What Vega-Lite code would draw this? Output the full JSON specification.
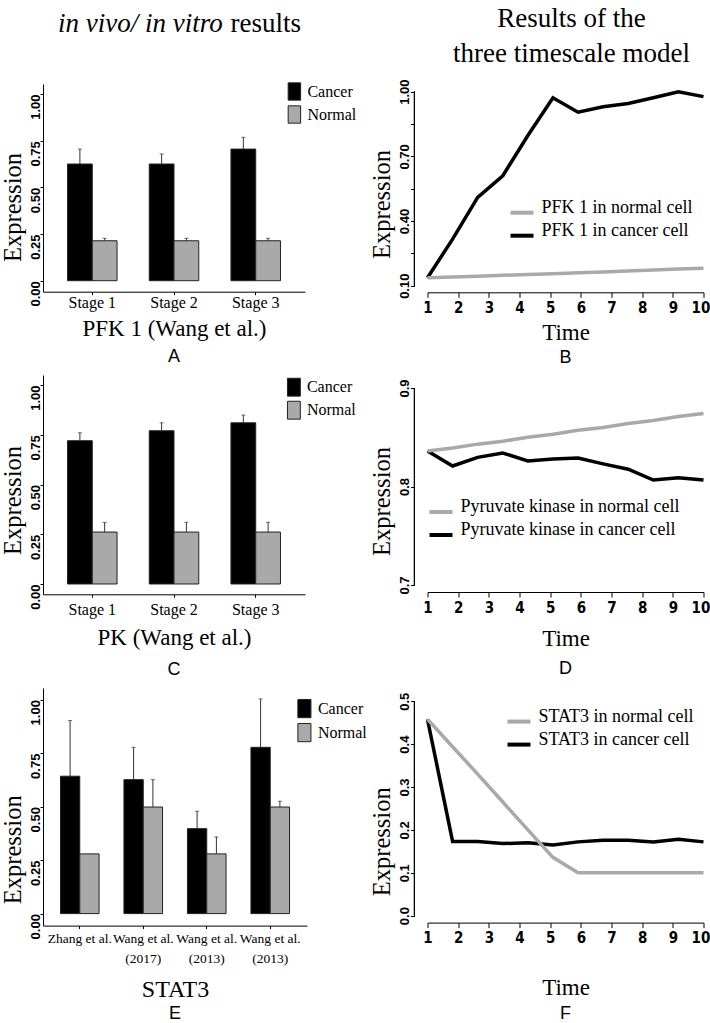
{
  "$schema": "https://vega.github.io/schema/vega-lite/v6.json",
  "background": "white",
  "padding": {"left": 0, "top": 4, "right": 0, "bottom": 0},
  "columns": 2,
  "bounds": "flush",
  "align": "each",
  "spacing": {"row": 0, "column": 120.5},
  "resolve": {"scale": {"fill": "independent", "color": "independent", "x": "independent", "y": "independent", "xOffset": "independent"}, "legend": {"fill": "independent", "color": "independent"}},
  "config": {
    "view": {"stroke": null},
    "font": "Liberation Serif",
    "axis": {"grid": false, "domainColor": "#000", "tickColor": "#000", "labelColor": "#000", "titleColor": "#000", "domainWidth": 1, "tickWidth": 1},
    "legend": {"labelColor": "#000"},
    "title": {"color": "#000"}
  },
  "concat": [
    {
      "width": 262, "height": 207.7,
      "title": {"text": "A", "orient": "bottom", "anchor": "middle", "font": "Liberation Sans", "fontSize": 18, "fontWeight": "normal", "offset": 7.5},
      "data": {"values": [
        {"g": "Stage 1", "k": "Cancer", "v": 0.625, "u": 0.705},
        {"g": "Stage 1", "k": "Normal", "v": 0.214, "u": 0.227},
        {"g": "Stage 2", "k": "Cancer", "v": 0.625, "u": 0.679},
        {"g": "Stage 2", "k": "Normal", "v": 0.214, "u": 0.227},
        {"g": "Stage 3", "k": "Cancer", "v": 0.705, "u": 0.768},
        {"g": "Stage 3", "k": "Normal", "v": 0.214, "u": 0.227}
      ]},
      "layer": [
        {
          "encoding": {
            "x": {"field": "g", "type": "nominal", "sort": null, "scale": {"paddingInner": 0.394, "paddingOuter": 0.3},
              "axis": {"orient": "bottom", "labelAngle": 0, "labelFont": "Liberation Serif", "labelFontSize": 16, "labelBaseline": "alphabetic", "labelPadding": 12.8, "tickSize": 3, "labelOverlap": false,
                "title": "PFK 1 (Wang et al.)", "titleFont": "Liberation Serif", "titleFontSize": 23, "titleFontWeight": "normal", "titleBaseline": "alphabetic", "titleY": 43.8}},
            "xOffset": {"field": "k", "type": "nominal", "sort": ["Cancer", "Normal"], "scale": {"paddingInner": 0, "paddingOuter": 0}},
            "y": {"field": "v", "type": "quantitative", "title": "Expression", "scale": {"domain": [-0.0589, 1.0536], "nice": false, "zero": false},
              "axis": {"orient": "left", "values": [0, 0.25, 0.5, 0.75, 1], "format": ".2f", "labelAngle": -90, "labelAlign": "right", "labelBaseline": "bottom", "labelFont": "Liberation Sans", "labelFontWeight": "bold", "labelFontSize": 13, "labelPadding": -2, "tickSize": 3, "labelOverlap": false, "labelFlush": false,
                "titleFont": "Liberation Serif", "titleFontSize": 24.5, "titleFontWeight": "normal", "titleAngle": -90, "titleAlign": "center", "titleBaseline": "bottom", "titleX": -18, "titleY": 123}}
          },
          "layer": [
            {"mark": {"type": "bar", "stroke": "#222", "strokeWidth": 1},
             "encoding": {"y2": {"datum": 0},
               "fill": {"field": "k", "type": "nominal", "scale": {"domain": ["Cancer", "Normal"], "range": ["#000000", "#a9a9a9"]},
                 "legend": {"title": null, "orient": "none", "legendX": 241.9, "legendY": -2, "symbolType": "M-0.72,-1H0.72V1H-0.72Z", "symbolSize": 300, "symbolStrokeColor": "#222", "symbolStrokeWidth": 1, "symbolOpacity": 1, "labelFont": "Liberation Serif", "labelFontSize": 16, "labelOffset": 3.5, "rowPadding": 0, "padding": 0}}}},
            {"transform": [{"filter": "datum.u != null"}], "mark": {"type": "rule", "color": "#333", "strokeWidth": 1}, "encoding": {"y2": {"field": "u"}}},
            {"transform": [{"filter": "datum.u != null"}], "mark": {"type": "tick", "color": "#333", "size": 4, "thickness": 1}, "encoding": {"y": {"field": "u", "type": "quantitative", "title": "Expression"}}}
          ]
        },
        {
          "mark": {"type": "point", "opacity": 0, "size": 1},
          "encoding": {
            "x": {"field": "g", "type": "nominal", "sort": null,
              "axis": {"orient": "top", "domain": false, "ticks": false, "labels": false, "title": "in vivo/ in vitro", "titleFont": "Liberation Serif", "titleFontSize": 27, "titleFontStyle": "italic", "titleFontWeight": "normal", "titleAngle": 0, "titleAlign": "left", "titleBaseline": "alphabetic", "titleX": 14.5, "titleY": -53}},
            "y": {"field": "v", "type": "quantitative", "scale": {"domain": [-0.0589, 1.0536], "nice": false, "zero": false},
              "axis": {"orient": "right", "domain": false, "ticks": false, "labels": false, "title": "results", "titleFont": "Liberation Serif", "titleFontSize": 27, "titleFontWeight": "normal", "titleFontStyle": "normal", "titleAngle": 0, "titleAlign": "left", "titleBaseline": "alphabetic", "titleX": -75, "titleY": -53}}
          }
        }
      ],
      "resolve": {"scale": {"x": "independent", "y": "independent"}, "axis": {"x": "independent", "y": "independent"}}
    },
    {
      "width": 276, "height": 201.7,
      "title": {"text": "B", "orient": "bottom", "anchor": "middle", "font": "Liberation Sans", "fontSize": 18, "fontWeight": "normal", "offset": 4.5},
      "data": {"values": [
        {"t": 1, "v": 0.137, "s": "PFK 1 in cancer cell"},
        {"t": 1.818, "v": 0.316, "s": "PFK 1 in cancer cell"},
        {"t": 2.636, "v": 0.51, "s": "PFK 1 in cancer cell"},
        {"t": 3.455, "v": 0.61, "s": "PFK 1 in cancer cell"},
        {"t": 4.273, "v": 0.797, "s": "PFK 1 in cancer cell"},
        {"t": 5.091, "v": 0.972, "s": "PFK 1 in cancer cell"},
        {"t": 5.909, "v": 0.905, "s": "PFK 1 in cancer cell"},
        {"t": 6.727, "v": 0.93, "s": "PFK 1 in cancer cell"},
        {"t": 7.545, "v": 0.945, "s": "PFK 1 in cancer cell"},
        {"t": 8.364, "v": 0.972, "s": "PFK 1 in cancer cell"},
        {"t": 9.182, "v": 1.0, "s": "PFK 1 in cancer cell"},
        {"t": 10, "v": 0.977, "s": "PFK 1 in cancer cell"},
        {"t": 1, "v": 0.137, "s": "PFK 1 in normal cell"},
        {"t": 1.818, "v": 0.140, "s": "PFK 1 in normal cell"},
        {"t": 2.636, "v": 0.144, "s": "PFK 1 in normal cell"},
        {"t": 3.455, "v": 0.148, "s": "PFK 1 in normal cell"},
        {"t": 4.273, "v": 0.152, "s": "PFK 1 in normal cell"},
        {"t": 5.091, "v": 0.156, "s": "PFK 1 in normal cell"},
        {"t": 5.909, "v": 0.160, "s": "PFK 1 in normal cell"},
        {"t": 6.727, "v": 0.164, "s": "PFK 1 in normal cell"},
        {"t": 7.545, "v": 0.168, "s": "PFK 1 in normal cell"},
        {"t": 8.364, "v": 0.173, "s": "PFK 1 in normal cell"},
        {"t": 9.182, "v": 0.177, "s": "PFK 1 in normal cell"},
        {"t": 10, "v": 0.181, "s": "PFK 1 in normal cell"}
      ]},
      "layer": [
        {
          "encoding": {
            "x": {"field": "t", "type": "quantitative", "scale": {"domain": [1, 10], "nice": false, "zero": false},
              "axis": {"orient": "bottom", "values": [1, 2, 3, 4, 5, 6, 7, 8, 9, 10], "format": "d", "offset": 6.6, "tickSize": 5, "labelPadding": 3, "labelBaseline": "top", "labelFlush": false, "labelOverlap": false, "labelFont": "Liberation Sans Narrow, DejaVu Sans Condensed, Liberation Sans", "labelFontWeight": "bold", "labelFontSize": 15, "labelOffset": {"condition": {"test": "datum.value == 10", "value": -3}, "value": 0},
                "title": "Time", "titleFont": "Liberation Serif", "titleFontSize": 23, "titleFontWeight": "normal", "titleBaseline": "alphabetic", "titleY": 46.7}},
            "y": {"field": "v", "type": "quantitative", "scale": {"domain": [0.1, 1.0357], "nice": false, "zero": false},
              "axis": {"orient": "left", "domain": false, "values": [0.1, 0.25, 0.4, 0.55, 0.7, 0.85, 1.0], "labelExpr": "(abs(datum.value-0.25)<0.01 || abs(datum.value-0.55)<0.01 || abs(datum.value-0.85)<0.01) ? '' : format(datum.value, '.2f')", "offset": 13, "tickSize": 4, "labelAngle": -90, "labelAlign": "center", "labelBaseline": "bottom", "labelPadding": -1, "labelFont": "Liberation Sans", "labelFontWeight": "bold", "labelFontSize": 13, "labelOverlap": false, "labelFlush": false,
                "title": "Expression", "titleFont": "Liberation Serif", "titleFontSize": 24.5, "titleFontWeight": "normal", "titleAngle": -90, "titleAlign": "center", "titleBaseline": "bottom", "titleX": -20, "titleY": 120}}
          },
          "layer": [
            {"mark": {"type": "line", "strokeWidth": 3.5},
             "encoding": {
               "color": {"field": "s", "type": "nominal", "scale": {"domain": ["PFK 1 in normal cell", "PFK 1 in cancer cell"], "range": ["#a9a9a9", "#000000"]},
                 "legend": {"title": null, "orient": "none", "legendX": 81, "legendY": 115.2, "symbolType": "stroke", "symbolSize": 529, "symbolStrokeWidth": 4, "labelFont": "Liberation Serif", "labelFontSize": 18, "labelOffset": 6, "labelBaseline": "alphabetic", "rowPadding": 0, "padding": 0, "labelLimit": 400}}}},
            {"mark": {"type": "rule", "color": "#000", "strokeWidth": 1},
             "encoding": {"x": {"datum": 0.576, "type": "quantitative"}, "y": {"datum": 0.1, "type": "quantitative"}, "y2": {"datum": 1.0}}}
          ]
        },
        {
          "mark": {"type": "point", "opacity": 0, "size": 1},
          "encoding": {
            "x": {"field": "t", "type": "quantitative", "scale": {"domain": [1, 10], "nice": false, "zero": false},
              "axis": {"orient": "top", "domain": false, "ticks": false, "labels": false, "grid": false, "title": ["Results of the", "three timescale model"], "titleFont": "Liberation Serif", "titleFontSize": 27, "titleFontWeight": "normal", "titleAngle": 0, "titleAlign": "center", "titleBaseline": "alphabetic", "titleLineHeight": 35, "titleX": 143.5, "titleY": -57.7}},
            "y": {"field": "v", "type": "quantitative", "scale": {"domain": [0.1, 1.0357], "nice": false, "zero": false}, "axis": null}
          }
        }
      ],
      "resolve": {"scale": {"x": "independent", "y": "independent"}, "axis": {"x": "independent", "y": "independent"}}
    },
    {"width": 1, "height": 82.3, "data": {"values": []}, "mark": {"type": "point", "opacity": 0}},
    {"width": 1, "height": 82.3, "data": {"values": []}, "mark": {"type": "point", "opacity": 0}},
    {
      "width": 262, "height": 219.3,
      "title": {"text": "C", "orient": "bottom", "anchor": "middle", "font": "Liberation Sans", "fontSize": 18, "fontWeight": "normal", "offset": 11.5},
      "data": {"values": [
        {"g": "Stage 1", "k": "Cancer", "v": 0.72, "u": 0.76},
        {"g": "Stage 1", "k": "Normal", "v": 0.261, "u": 0.31},
        {"g": "Stage 2", "k": "Cancer", "v": 0.77, "u": 0.81},
        {"g": "Stage 2", "k": "Normal", "v": 0.261, "u": 0.31},
        {"g": "Stage 3", "k": "Cancer", "v": 0.81, "u": 0.849},
        {"g": "Stage 3", "k": "Normal", "v": 0.261, "u": 0.31}
      ]},
      "encoding": {
        "x": {"field": "g", "type": "nominal", "sort": null, "scale": {"paddingInner": 0.394, "paddingOuter": 0.3},
          "axis": {"labelAngle": 0, "labelFont": "Liberation Serif", "labelFontSize": 16, "labelBaseline": "alphabetic", "labelPadding": 17.3, "tickSize": 3, "labelOverlap": false,
            "title": "PK (Wang et al.)", "titleFont": "Liberation Serif", "titleFontSize": 23, "titleFontWeight": "normal", "titleBaseline": "alphabetic", "titleY": 49.7}},
        "xOffset": {"field": "k", "type": "nominal", "sort": ["Cancer", "Normal"], "scale": {"paddingInner": 0, "paddingOuter": 0}},
        "y": {"field": "v", "type": "quantitative", "title": "Expression", "scale": {"domain": [-0.0518, 1.0503], "nice": false, "zero": false},
          "axis": {"values": [0, 0.25, 0.5, 0.75, 1], "format": ".2f", "labelAngle": -90, "labelAlign": "right", "labelBaseline": "bottom", "labelFont": "Liberation Sans", "labelFontWeight": "bold", "labelFontSize": 13, "labelPadding": -2, "tickSize": 3, "labelOverlap": false, "labelFlush": false,
            "titleFont": "Liberation Serif", "titleFontSize": 24.5, "titleFontWeight": "normal", "titleAngle": -90, "titleAlign": "center", "titleBaseline": "bottom", "titleX": -18, "titleY": 125}}
      },
      "layer": [
        {"mark": {"type": "bar", "stroke": "#222", "strokeWidth": 1},
         "encoding": {"y2": {"datum": 0},
           "fill": {"field": "k", "type": "nominal", "scale": {"domain": ["Cancer", "Normal"], "range": ["#000000", "#a9a9a9"]},
             "legend": {"title": null, "orient": "none", "legendX": 241.4, "legendY": 2.7, "symbolType": "M-0.72,-1H0.72V1H-0.72Z", "symbolSize": 320, "symbolStrokeColor": "#222", "symbolStrokeWidth": 1, "symbolOpacity": 1, "labelFont": "Liberation Serif", "labelFontSize": 16, "labelOffset": 3.5, "rowPadding": 0, "padding": 0}}}},
        {"transform": [{"filter": "datum.u != null"}], "mark": {"type": "rule", "color": "#333", "strokeWidth": 1}, "encoding": {"y2": {"field": "u"}}},
        {"transform": [{"filter": "datum.u != null"}], "mark": {"type": "tick", "color": "#333", "size": 4, "thickness": 1}, "encoding": {"y": {"field": "u", "type": "quantitative", "title": "Expression"}}}
      ]
    },
    {
      "width": 276, "height": 210,
      "title": {"text": "D", "orient": "bottom", "anchor": "middle", "font": "Liberation Sans", "fontSize": 18, "fontWeight": "normal", "offset": 10},
      "data": {"values": [
        {"t": 1, "v": 0.836, "s": "Pyruvate kinase in cancer cell"},
        {"t": 1.818, "v": 0.8208, "s": "Pyruvate kinase in cancer cell"},
        {"t": 2.636, "v": 0.8296, "s": "Pyruvate kinase in cancer cell"},
        {"t": 3.455, "v": 0.834, "s": "Pyruvate kinase in cancer cell"},
        {"t": 4.273, "v": 0.826, "s": "Pyruvate kinase in cancer cell"},
        {"t": 5.091, "v": 0.828, "s": "Pyruvate kinase in cancer cell"},
        {"t": 5.909, "v": 0.829, "s": "Pyruvate kinase in cancer cell"},
        {"t": 6.727, "v": 0.823, "s": "Pyruvate kinase in cancer cell"},
        {"t": 7.545, "v": 0.8175, "s": "Pyruvate kinase in cancer cell"},
        {"t": 8.364, "v": 0.8066, "s": "Pyruvate kinase in cancer cell"},
        {"t": 9.182, "v": 0.809, "s": "Pyruvate kinase in cancer cell"},
        {"t": 10, "v": 0.8066, "s": "Pyruvate kinase in cancer cell"},
        {"t": 1, "v": 0.836, "s": "Pyruvate kinase in normal cell"},
        {"t": 1.818, "v": 0.839, "s": "Pyruvate kinase in normal cell"},
        {"t": 2.636, "v": 0.843, "s": "Pyruvate kinase in normal cell"},
        {"t": 3.455, "v": 0.846, "s": "Pyruvate kinase in normal cell"},
        {"t": 4.273, "v": 0.850, "s": "Pyruvate kinase in normal cell"},
        {"t": 5.091, "v": 0.853, "s": "Pyruvate kinase in normal cell"},
        {"t": 5.909, "v": 0.857, "s": "Pyruvate kinase in normal cell"},
        {"t": 6.727, "v": 0.860, "s": "Pyruvate kinase in normal cell"},
        {"t": 7.545, "v": 0.864, "s": "Pyruvate kinase in normal cell"},
        {"t": 8.364, "v": 0.867, "s": "Pyruvate kinase in normal cell"},
        {"t": 9.182, "v": 0.871, "s": "Pyruvate kinase in normal cell"},
        {"t": 10, "v": 0.874, "s": "Pyruvate kinase in normal cell"}
      ]},
      "encoding": {
        "x": {"field": "t", "type": "quantitative", "scale": {"domain": [1, 10], "nice": false, "zero": false},
          "axis": {"values": [1, 2, 3, 4, 5, 6, 7, 8, 9, 10], "format": "d", "offset": 7, "tickSize": 5, "labelPadding": 3, "labelBaseline": "top", "labelFlush": false, "labelOverlap": false, "labelFont": "Liberation Sans Narrow, DejaVu Sans Condensed, Liberation Sans", "labelFontWeight": "bold", "labelFontSize": 15, "labelOffset": {"condition": {"test": "datum.value == 10", "value": -3}, "value": 0},
            "title": "Time", "titleFont": "Liberation Serif", "titleFontSize": 23, "titleFontWeight": "normal", "titleBaseline": "alphabetic", "titleY": 53}},
        "y": {"field": "v", "type": "quantitative", "scale": {"domain": [0.7, 0.9132], "nice": false, "zero": false},
          "axis": {"domain": false, "values": [0.7, 0.8, 0.9], "format": ".1f", "offset": 13, "tickSize": 4, "labelAngle": -90, "labelAlign": "center", "labelBaseline": "bottom", "labelPadding": -1, "labelFont": "Liberation Sans", "labelFontWeight": "bold", "labelFontSize": 13, "labelOverlap": false, "labelFlush": false,
            "title": "Expression", "titleFont": "Liberation Serif", "titleFontSize": 24.5, "titleFontWeight": "normal", "titleAngle": -90, "titleAlign": "center", "titleBaseline": "bottom", "titleX": -20, "titleY": 126}}
      },
      "layer": [
        {"mark": {"type": "line", "strokeWidth": 3.5},
         "encoding": {
           "color": {"field": "s", "type": "nominal", "scale": {"domain": ["Pyruvate kinase in normal cell", "Pyruvate kinase in cancer cell"], "range": ["#a9a9a9", "#000000"]},
             "legend": {"title": null, "orient": "none", "legendX": 0, "legendY": 123.5, "symbolType": "stroke", "symbolSize": 529, "symbolStrokeWidth": 4, "labelFont": "Liberation Serif", "labelFontSize": 18, "labelOffset": 6, "labelBaseline": "alphabetic", "rowPadding": 0, "padding": 0, "labelLimit": 400}}}},
        {"mark": {"type": "rule", "color": "#000", "strokeWidth": 1},
         "encoding": {"x": {"datum": 0.576, "type": "quantitative"}, "y": {"datum": 0.7, "type": "quantitative"}, "y2": {"datum": 0.9}}}
      ]
    },
    {"width": 1, "height": 92.4, "data": {"values": []}, "mark": {"type": "point", "opacity": 0}},
    {"width": 1, "height": 92.4, "data": {"values": []}, "mark": {"type": "point", "opacity": 0}},
    {
      "width": 264, "height": 237.6,
      "title": {"text": "E", "orient": "bottom", "anchor": "middle", "font": "Liberation Sans", "fontSize": 18, "fontWeight": "normal", "offset": 3.5},
      "data": {"values": [
        {"g": "S1", "k": "Cancer", "v": 0.642, "u": 0.902},
        {"g": "S1", "k": "Normal", "v": 0.279, "u": null},
        {"g": "S2", "k": "Cancer", "v": 0.626, "u": 0.777},
        {"g": "S2", "k": "Normal", "v": 0.498, "u": 0.626},
        {"g": "S3", "k": "Cancer", "v": 0.397, "u": 0.478},
        {"g": "S3", "k": "Normal", "v": 0.279, "u": 0.358},
        {"g": "S4", "k": "Cancer", "v": 0.777, "u": 1.003},
        {"g": "S4", "k": "Normal", "v": 0.498, "u": 0.525}
      ]},
      "encoding": {
        "x": {"field": "g", "type": "nominal", "sort": null, "scale": {"paddingInner": 0.392, "paddingOuter": 0.275},
          "axis": {"labelAngle": 0, "labelFont": "Liberation Serif", "labelFontSize": 13.5, "labelBaseline": "alphabetic", "labelPadding": 13.6, "labelLineHeight": 20, "tickSize": 3, "labelOverlap": false,
            "labelExpr": "datum.value == 'S1' ? 'Zhang et al.' : (datum.value == 'S2' ? ['Wang et al.', '(2017)'] : ['Wang et al.', '(2013)'])",
            "title": "STAT3", "titleFont": "Liberation Serif", "titleFontSize": 24, "titleFontWeight": "normal", "titleBaseline": "alphabetic", "titleY": 70.7}},
        "xOffset": {"field": "k", "type": "nominal", "sort": ["Cancer", "Normal"], "scale": {"paddingInner": 0, "paddingOuter": 0}},
        "y": {"field": "v", "type": "quantitative", "title": "Expression", "scale": {"domain": [-0.0561, 1.0542], "nice": false, "zero": false},
          "axis": {"values": [0, 0.25, 0.5, 0.75, 1], "format": ".2f", "labelAngle": -90, "labelAlign": "right", "labelBaseline": "bottom", "labelFont": "Liberation Sans", "labelFontWeight": "bold", "labelFontSize": 13, "labelPadding": -2, "tickSize": 3, "labelOverlap": false, "labelFlush": false,
            "titleFont": "Liberation Serif", "titleFontSize": 24.5, "titleFontWeight": "normal", "titleAngle": -90, "titleAlign": "center", "titleBaseline": "bottom", "titleX": -18, "titleY": 161.3}}
      },
      "layer": [
        {"mark": {"type": "bar", "stroke": "#222", "strokeWidth": 1},
         "encoding": {"y2": {"datum": 0},
           "fill": {"field": "k", "type": "nominal", "scale": {"domain": ["Cancer", "Normal"], "range": ["#000000", "#a9a9a9"]},
             "legend": {"title": null, "orient": "none", "legendX": 251.4, "legendY": 10.6, "symbolType": "M-0.72,-1H0.72V1H-0.72Z", "symbolSize": 330, "symbolStrokeColor": "#222", "symbolStrokeWidth": 1, "symbolOpacity": 1, "labelFont": "Liberation Serif", "labelFontSize": 16, "labelOffset": 3.5, "rowPadding": 0, "padding": 0}}}},
        {"transform": [{"filter": "datum.u != null"}], "mark": {"type": "rule", "color": "#333", "strokeWidth": 1}, "encoding": {"y2": {"field": "u"}}},
        {"transform": [{"filter": "datum.u != null"}], "mark": {"type": "tick", "color": "#333", "size": 4, "thickness": 1}, "encoding": {"y": {"field": "u", "type": "quantitative", "title": "Expression"}}}
      ]
    },
    {
      "width": 276, "height": 227.6,
      "title": {"text": "F", "orient": "bottom", "anchor": "middle", "font": "Liberation Sans", "fontSize": 18, "fontWeight": "normal", "offset": 5.5},
      "data": {"values": [
        {"t": 1, "v": 0.458, "s": "STAT3 in cancer cell"},
        {"t": 1.818, "v": 0.173, "s": "STAT3 in cancer cell"},
        {"t": 2.636, "v": 0.173, "s": "STAT3 in cancer cell"},
        {"t": 3.455, "v": 0.168, "s": "STAT3 in cancer cell"},
        {"t": 4.273, "v": 0.170, "s": "STAT3 in cancer cell"},
        {"t": 5.091, "v": 0.165, "s": "STAT3 in cancer cell"},
        {"t": 5.909, "v": 0.172, "s": "STAT3 in cancer cell"},
        {"t": 6.727, "v": 0.176, "s": "STAT3 in cancer cell"},
        {"t": 7.545, "v": 0.176, "s": "STAT3 in cancer cell"},
        {"t": 8.364, "v": 0.172, "s": "STAT3 in cancer cell"},
        {"t": 9.182, "v": 0.178, "s": "STAT3 in cancer cell"},
        {"t": 10, "v": 0.172, "s": "STAT3 in cancer cell"},
        {"t": 1, "v": 0.458, "s": "STAT3 in normal cell"},
        {"t": 1.818, "v": 0.394, "s": "STAT3 in normal cell"},
        {"t": 2.636, "v": 0.330, "s": "STAT3 in normal cell"},
        {"t": 3.455, "v": 0.265, "s": "STAT3 in normal cell"},
        {"t": 4.273, "v": 0.200, "s": "STAT3 in normal cell"},
        {"t": 5.091, "v": 0.136, "s": "STAT3 in normal cell"},
        {"t": 5.909, "v": 0.100, "s": "STAT3 in normal cell"},
        {"t": 6.727, "v": 0.100, "s": "STAT3 in normal cell"},
        {"t": 7.545, "v": 0.100, "s": "STAT3 in normal cell"},
        {"t": 8.364, "v": 0.100, "s": "STAT3 in normal cell"},
        {"t": 9.182, "v": 0.100, "s": "STAT3 in normal cell"},
        {"t": 10, "v": 0.100, "s": "STAT3 in normal cell"}
      ]},
      "encoding": {
        "x": {"field": "t", "type": "quantitative", "scale": {"domain": [1, 10], "nice": false, "zero": false},
          "axis": {"values": [1, 2, 3, 4, 5, 6, 7, 8, 9, 10], "format": "d", "offset": 7, "tickSize": 5, "labelPadding": 3, "labelBaseline": "top", "labelFlush": false, "labelOverlap": false, "labelFont": "Liberation Sans Narrow, DejaVu Sans Condensed, Liberation Sans", "labelFontWeight": "bold", "labelFontSize": 15, "labelOffset": {"condition": {"test": "datum.value == 10", "value": -3}, "value": 0},
            "title": "Time", "titleFont": "Liberation Serif", "titleFontSize": 23, "titleFontWeight": "normal", "titleBaseline": "alphabetic", "titleY": 71.7}},
        "y": {"field": "v", "type": "quantitative", "scale": {"domain": [0, 0.531], "nice": false, "zero": false},
          "axis": {"domain": false, "values": [0, 0.1, 0.2, 0.3, 0.4, 0.5], "format": ".1f", "offset": 13, "tickSize": 4, "labelAngle": -90, "labelAlign": "center", "labelBaseline": "bottom", "labelPadding": -1, "labelFont": "Liberation Sans", "labelFontWeight": "bold", "labelFontSize": 13, "labelOverlap": false, "labelFlush": false,
            "title": "Expression", "titleFont": "Liberation Serif", "titleFontSize": 24.5, "titleFontWeight": "normal", "titleAngle": -90, "titleAlign": "center", "titleBaseline": "bottom", "titleX": -20, "titleY": 153.3}}
      },
      "layer": [
        {"mark": {"type": "line", "strokeWidth": 3.5},
         "encoding": {
           "color": {"field": "s", "type": "nominal", "scale": {"domain": ["STAT3 in normal cell", "STAT3 in cancer cell"], "range": ["#a9a9a9", "#000000"]},
             "legend": {"title": null, "orient": "none", "legendX": 78, "legendY": 20.1, "symbolType": "stroke", "symbolSize": 529, "symbolStrokeWidth": 4, "labelFont": "Liberation Serif", "labelFontSize": 18, "labelOffset": 6, "labelBaseline": "alphabetic", "rowPadding": 0, "padding": 0, "labelLimit": 400}}}},
        {"mark": {"type": "rule", "color": "#000", "strokeWidth": 1},
         "encoding": {"x": {"datum": 0.576, "type": "quantitative"}, "y": {"datum": 0, "type": "quantitative"}, "y2": {"datum": 0.5}}}
      ]
    }
  ]
}
